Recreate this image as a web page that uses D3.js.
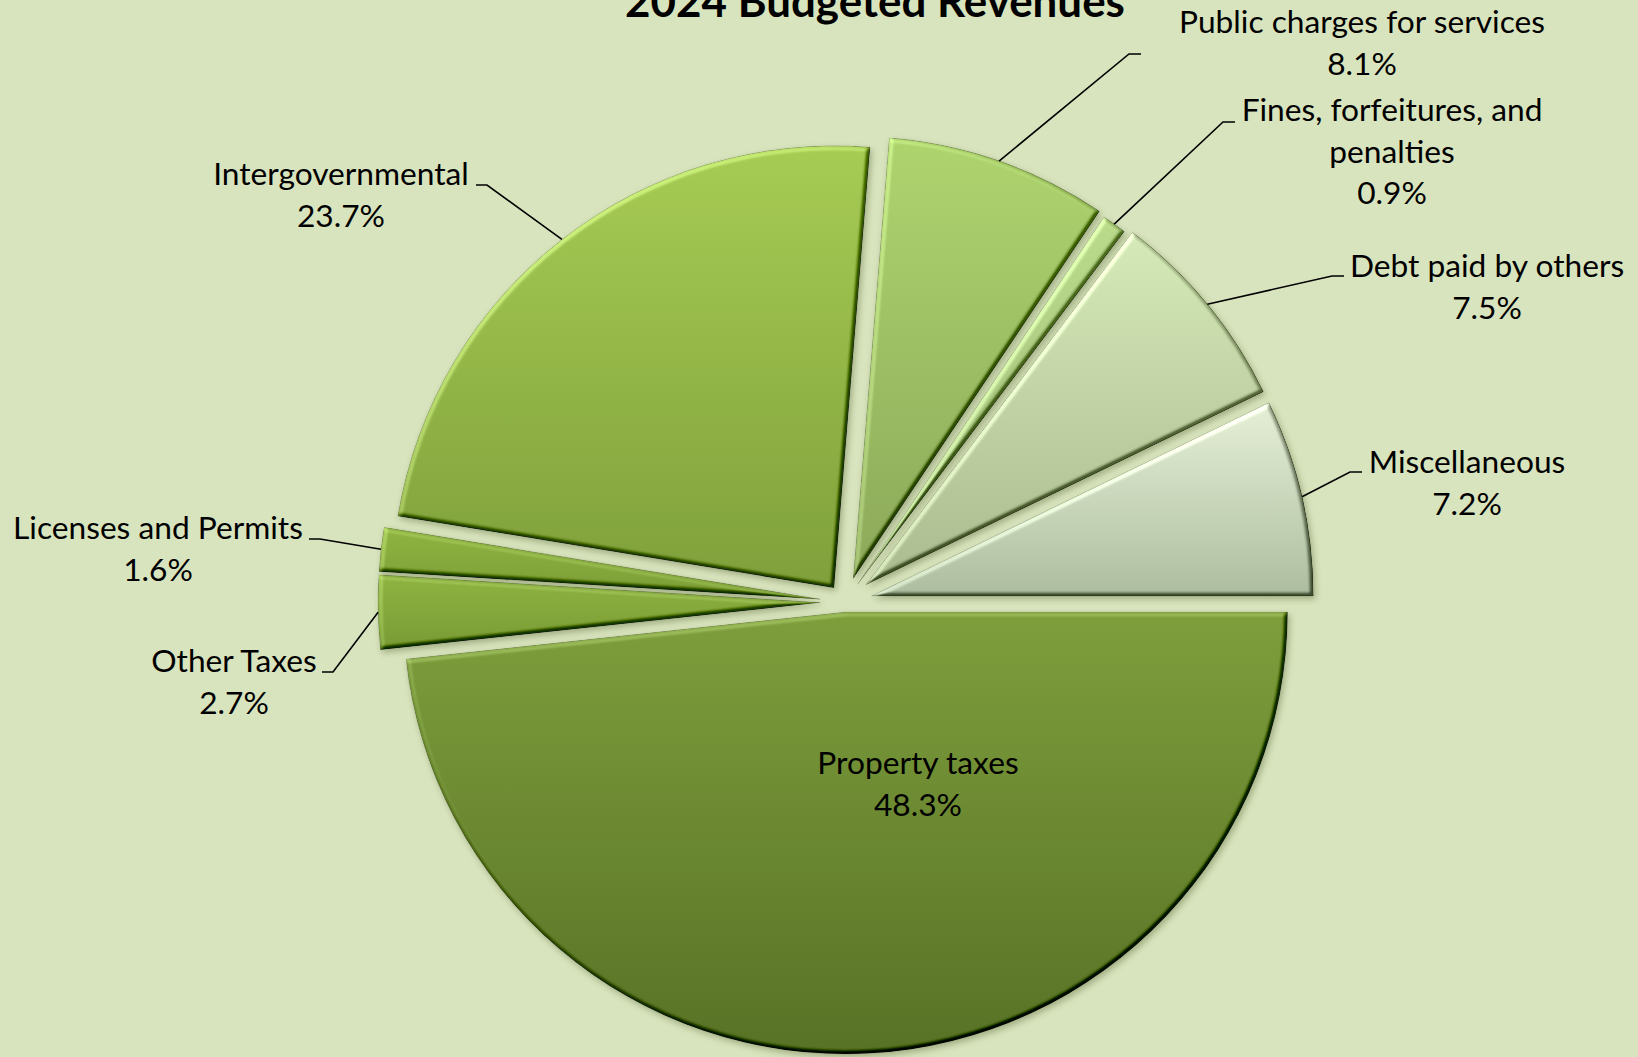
<!DOCTYPE html>
<html lang="en">
<head>
  <meta charset="UTF-8">
  <script src="https://d3js.org/d3.v7.min.js"></script>
  <style>
    body { margin: 0; background-color: #d8e4bd; }
    svg { display: block; }
    .label { font-family: Lato, "Liberation Sans", sans-serif; fill: #000; }
    .title { font-family: Lato, "Liberation Sans", sans-serif; font-weight: bold; fill: #000; }
    .leader { stroke: #000; stroke-width: 1.6; fill: none; }
  </style>
  <title>2024 Budgeted Revenues</title>
</head>
<body>

  <svg id="chart" width="1638" height="1057"></svg>

  <script>
    // slices, in drawing order (clockwise from 3 o'clock)
    var categories = ["Property taxes", "Other Taxes", "Licenses and Permits", "Intergovernmental",
      "Public charges for services", "Fines, forfeitures, and penalties", "Debt paid by others", "Miscellaneous"];
    var shares = [48.3, 2.7, 1.6, 23.7, 8.1, 0.9, 7.5, 7.2];

    // how each category label is broken into lines
    var labelLines = [["Property taxes"], ["Other Taxes"], ["Licenses and Permits"], ["Intergovernmental"],
      ["Public charges for services"], ["Fines, forfeitures, and", "penalties"], ["Debt paid by others"], ["Miscellaneous"]];

    // styling / layout
    var sliceColors = [
      ["#7e9e3c", "#587226"],
      ["#8fb441", "#789b35"],
      ["#8fb441", "#7a9d36"],
      ["#a7cc54", "#7fa03b"],
      ["#aed46e", "#8ca95a"],
      ["#badb8a", "#9fba7b"],
      ["#d6e9b8", "#aabb8f"],
      ["#e6f0d7", "#adbd9f"]
    ];
    var explode = [10, 25, 25, 18, 25, 22, 27, 27];
    var labelX = [918, 234, 158, 341, 1362, 1392, 1487, 1467];
    var labelY = [774, 672, 539, 185, 33, 121, 277, 473];
    var elbowX = [null, 333, 320, 487, 1129, 1223, 1332, 1350];
    var elbowY = [null, 672, 539, 185, 54, 122, 276, 472];

    var svg = d3.select("#chart"),
      width = +svg.attr("width"),
      height = +svg.attr("height");

    var cx = 845, cy = 602, radius = 442, lineGap = 41.5;

    var defs = svg.append("defs");

    // per-slice vertical gradients
    sliceColors.forEach(function (c, i) {
      var g = defs.append("linearGradient")
        .attr("id", "grad" + i)
        .attr("x1", 0).attr("y1", 0).attr("x2", 0).attr("y2", 1);
      g.append("stop").attr("offset", "0%").attr("stop-color", c[0]);
      g.append("stop").attr("offset", "100%").attr("stop-color", c[1]);
    });

    // bevel + drop shadow, roughly like the office "angle" bevel
    // region is in the slice's own (translated) coordinates
    var pad = radius + 40;
    var f = defs.append("filter")
      .attr("id", "bevel")
      .attr("filterUnits", "userSpaceOnUse")
      .attr("x", -pad).attr("y", -pad).attr("width", 2 * pad).attr("height", 2 * pad)
      .attr("color-interpolation-filters", "sRGB");
    f.append("feGaussianBlur").attr("in", "SourceAlpha").attr("stdDeviation", 2.2).attr("result", "blur");
    f.append("feDiffuseLighting").attr("in", "blur").attr("surfaceScale", 5)
      .attr("diffuseConstant", 1).attr("lighting-color", "#ffffff").attr("result", "light")
      .append("feDistantLight").attr("azimuth", 225).attr("elevation", 45);
    f.append("feComposite").attr("in", "SourceGraphic").attr("in2", "light")
      .attr("operator", "arithmetic").attr("k1", 0).attr("k2", 1).attr("k3", 0.6).attr("k4", -0.424)
      .attr("result", "lit");
    f.append("feComposite").attr("in", "lit").attr("in2", "SourceAlpha").attr("operator", "in").attr("result", "bev");
    f.append("feGaussianBlur").attr("in", "SourceAlpha").attr("stdDeviation", 3).attr("result", "sblur");
    f.append("feOffset").attr("in", "sblur").attr("dx", 2).attr("dy", 3).attr("result", "soff");
    f.append("feFlood").attr("flood-color", "#3d4a17").attr("flood-opacity", 0.35);
    f.append("feComposite").attr("in2", "soff").attr("operator", "in").attr("result", "shadow");
    var m = f.append("feMerge");
    m.append("feMergeNode").attr("in", "shadow");
    m.append("feMergeNode").attr("in", "bev");

    var pie = d3.pie()
      .sort(null)
      .startAngle(Math.PI / 2)
      .endAngle(Math.PI / 2 + 2 * Math.PI)
      .value(function (d) { return d; });

    var arc = d3.arc().innerRadius(0).outerRadius(radius);

    var arcs = pie(shares);

    function offset(d, i) {
      var mid = (d.startAngle + d.endAngle) / 2;
      return [Math.sin(mid) * explode[i], -Math.cos(mid) * explode[i]];
    }

    var g = svg.append("g").attr("transform", "translate(" + cx + "," + cy + ")");

    g.selectAll("path.slice")
      .data(arcs)
      .enter().append("path")
      .attr("class", "slice")
      .attr("transform", function (d, i) { var o = offset(d, i); return "translate(" + o[0] + "," + o[1] + ")"; })
      .attr("d", arc)
      .attr("fill", function (d, i) { return "url(#grad" + i + ")"; })
      .attr("stroke", "rgba(70,85,40,0.3)")
      .attr("stroke-width", 1)
      .attr("filter", "url(#bevel)");

    // font size fitted so the label widths match the original
    var probe = svg.append("text").attr("class", "label").style("font-size", "28px").text("Public charges for services");
    var fontSize = 28 * 366 / probe.node().getComputedTextLength();
    probe.remove();

    var fmt = d3.format(".1f");

    // leader lines
    arcs.forEach(function (d, i) {
      if (elbowX[i] == null) return;
      var o = offset(d, i);
      var mid = (d.startAngle + d.endAngle) / 2;
      var sx = cx + o[0] + Math.sin(mid) * radius,
        sy = cy + o[1] - Math.cos(mid) * radius;
      var tail = labelX[i] > elbowX[i] ? 12 : -11;
      svg.append("path")
        .attr("class", "leader")
        .attr("d", d3.line()([[sx, sy], [elbowX[i], elbowY[i]], [elbowX[i] + tail, elbowY[i]]]));
    });

    // labels: category name then share
    arcs.forEach(function (d, i) {
      var lines = labelLines[i].concat([fmt(shares[i]) + "%"]);
      var t = svg.append("text")
        .attr("class", "label")
        .attr("text-anchor", "middle")
        .style("font-size", fontSize + "px");
      lines.forEach(function (s, k) {
        t.append("tspan").attr("x", labelX[i]).attr("y", labelY[i] + k * lineGap).text(s);
      });
    });

    // title, partly cut off at the top like the original
    var title = svg.append("text")
      .attr("class", "title")
      .attr("x", 875).attr("y", 17)
      .attr("text-anchor", "middle")
      .style("font-size", "36px")
      .text("2024 Budgeted Revenues");
    var tw = title.node().getComputedTextLength();
    title.style("font-size", (36 * 500 / tw) + "px");
  </script>

</body>
</html>
